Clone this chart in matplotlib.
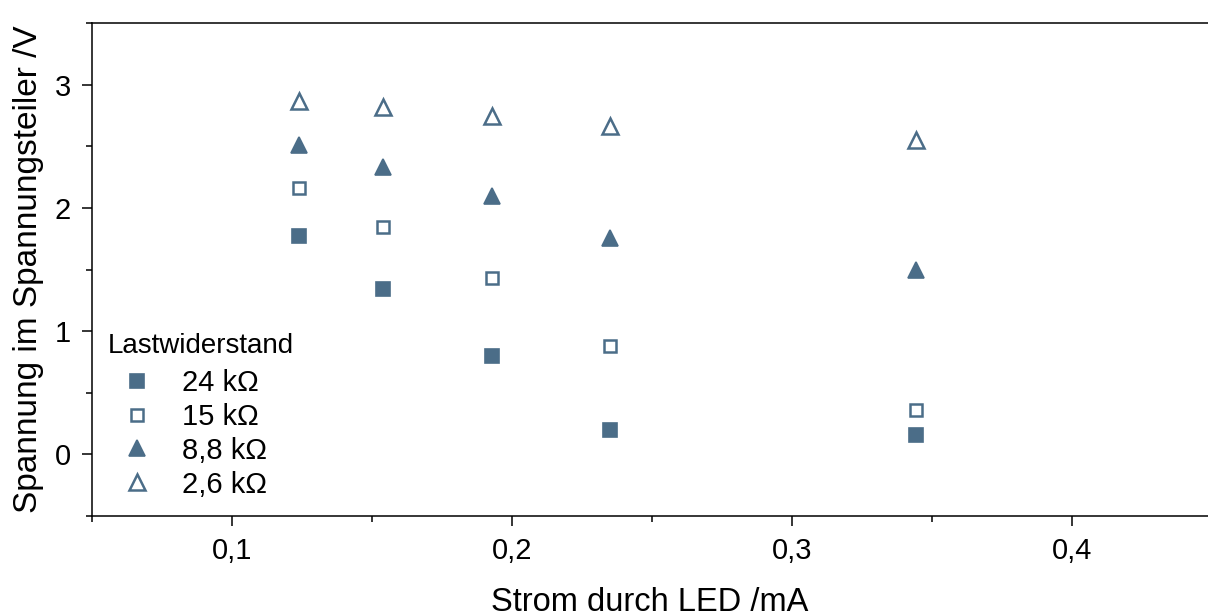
import matplotlib
matplotlib.use("Agg")
import matplotlib.pyplot as plt
from matplotlib.ticker import MultipleLocator, FuncFormatter

plt.rcParams['font.family'] = ['Liberation Sans', 'DejaVu Sans']

current = [0.1239, 0.1538, 0.1927, 0.2348, 0.3442]
u_24k = [1.774, 1.341, 0.801, 0.196, 0.155]
u_15k = [2.159, 1.848, 1.431, 0.883, 0.360]
u_8k8 = [2.510, 2.330, 2.093, 1.758, 1.496]
u_2k6 = [2.870, 2.820, 2.747, 2.666, 2.551]
labels = ["24 kΩ", "15 kΩ", "8,8 kΩ", "2,6 kΩ"]

color = "#4b6d88"

fig = plt.figure(figsize=(12.08, 6.16), dpi=100)
ax = fig.add_axes([92/1208, 1 - 516/616, (1208 - 92)/1208, (516 - 23)/616])

ax.plot(current, u_24k, linestyle='none', marker='s', markersize=9.5,
        color=color, markeredgewidth=1.2, label=labels[0])
ax.plot(current, u_15k, linestyle='none', marker='s', markersize=9,
        markerfacecolor='white', markeredgecolor=color, markeredgewidth=1.8, label=labels[1])
ax.plot(current, u_8k8, linestyle='none', marker='^', markersize=12,
        color=color, markeredgewidth=1.2, label=labels[2])
ax.plot(current, u_2k6, linestyle='none', marker='^', markersize=11.5,
        markerfacecolor='white', markeredgecolor=color, markeredgewidth=1.8, label=labels[3])

ax.set_xlim(0.05, 0.4485)
ax.set_ylim(-0.5, 3.5)
ax.xaxis.set_major_locator(MultipleLocator(0.1))
ax.xaxis.set_minor_locator(MultipleLocator(0.05))
ax.yaxis.set_major_locator(MultipleLocator(1))
ax.yaxis.set_minor_locator(MultipleLocator(0.5))
ax.xaxis.set_major_formatter(FuncFormatter(lambda v, p: f"{v:.1f}".replace('.', ',')))
ax.yaxis.set_major_formatter(FuncFormatter(lambda v, p: f"{v:.0f}"))

for s in ['left', 'bottom', 'top']:
    ax.spines[s].set_linewidth(1.1)
ax.spines['right'].set_visible(False)
ax.tick_params(which='major', direction='out', length=7, width=1.1, labelsize=21, pad=8)
ax.tick_params(which='minor', direction='out', length=4, width=1.1)
ax.tick_params(axis='x', which='both', top=False)

ax.set_xlabel("Strom durch LED /mA", fontsize=23.5, labelpad=16)
ax.set_ylabel("Spannung im Spannungsteiler /V", fontsize=24, labelpad=8)

leg = ax.legend(title="Lastwiderstand", loc='upper left', bbox_to_anchor=(-0.004, 0.412),
                frameon=False, fontsize=21, title_fontsize=20, alignment='left',
                handletextpad=0.55, labelspacing=0.2, borderaxespad=0.3, handlelength=2.0)
leg._legend_box.sep = 7

fig.savefig("out.png", dpi=100)
